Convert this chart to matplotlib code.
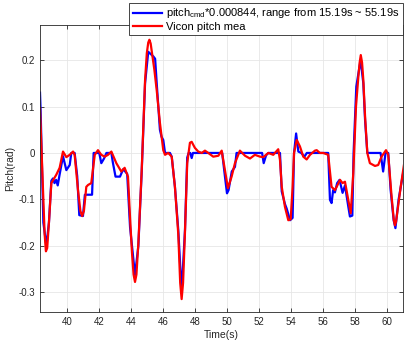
import matplotlib
matplotlib.use("Agg")
import matplotlib.pyplot as plt

# pitch command (scaled) -- blue
t_cmd = [38.29, 38.33, 38.50, 38.69, 38.85, 39.00, 39.10, 39.20, 39.30, 39.40, 39.50,
         39.73, 39.94, 40.15, 40.25, 40.46, 40.62, 40.75, 40.98, 41.10, 41.55, 41.65,
         42.00, 42.13, 42.30, 42.45, 42.76, 42.85, 43.02, 43.30, 43.50, 43.75, 43.93,
         44.24, 44.45, 44.66, 44.87, 45.07, 45.39, 45.50, 45.60, 45.80, 45.90, 46.01,
         46.12, 46.43, 46.54, 46.74, 46.95, 47.16, 47.37, 47.51, 47.60, 47.70, 47.79,
         47.87, 49.70, 49.87, 50.00, 50.10, 50.30, 50.50, 50.60, 52.20, 52.30, 52.45,
         52.59, 53.32, 53.43, 53.63, 53.74, 53.95, 54.11, 54.20, 54.33, 54.47, 54.65,
         54.85, 55.00, 56.34, 56.45, 56.55, 56.65, 56.76, 56.90, 57.05, 57.24, 57.39,
         57.60, 57.70, 57.85, 57.93, 58.10, 58.30, 58.37, 58.54, 58.65, 58.79, 59.62,
         59.78, 59.93, 60.10, 60.25, 60.44, 60.55, 60.75, 61.05]
pitch_cmd = [0.13, 0.09, -0.15, -0.20, -0.15, -0.06, -0.055, -0.065, -0.058, -0.07, -0.05,
             -0.007, -0.037, -0.026, 0.0, 0.0, -0.05, -0.134, -0.136, -0.09, -0.09, 0.0,
             0.0, -0.022, -0.012, 0.0, 0.0, -0.02, -0.051, -0.051, -0.035, -0.045, -0.16,
             -0.263, -0.20, -0.04, 0.15, 0.218, 0.208, 0.203, 0.15, 0.05, 0.035, 0.028,
             0.0, 0.0, -0.008, -0.073, -0.166, -0.30, -0.166, -0.01, 0.0, 0.0, -0.011,
             0.0, 0.0, -0.05, -0.087, -0.08, -0.04, -0.03, 0.0, 0.0, -0.022, -0.005,
             0.0, 0.0, -0.083, -0.11, -0.12, -0.145, -0.14, 0.0, 0.042, 0.003, 0.0,
             -0.008, 0.0, 0.0, -0.101, -0.108, -0.08, -0.085, -0.065, -0.058, -0.086, -0.07,
             -0.116, -0.137, -0.135, 0.0, 0.143, 0.186, 0.20, 0.15, 0.07, 0.0, 0.0,
             -0.040, 0.0, 0.0, -0.08, -0.145, -0.162, -0.10, -0.04]

# Vicon measured pitch -- red
t_mea = [38.29, 38.45, 38.58, 38.66, 38.74, 38.85, 39.00, 39.31, 39.52, 39.73, 39.94,
         40.15, 40.36, 40.46, 40.67, 40.82, 40.93, 41.04, 41.19, 41.30, 41.50, 41.72,
         41.92, 42.13, 42.34, 42.55, 42.76, 43.07, 43.38, 43.59, 43.80, 43.93, 44.05,
         44.15, 44.24, 44.33, 44.45, 44.66, 44.87, 44.98, 45.07, 45.14, 45.22, 45.32,
         45.45, 45.60, 45.80, 46.01, 46.12, 46.32, 46.54, 46.74, 46.95, 47.07, 47.16,
         47.25, 47.37, 47.51, 47.68, 47.79, 47.99, 48.20, 48.42, 48.62, 48.83, 49.14,
         49.46, 49.67, 49.87, 50.06, 50.29, 50.50, 50.81, 51.13, 51.44, 51.75, 52.07,
         52.27, 52.59, 52.90, 53.21, 53.32, 53.43, 53.63, 53.84, 53.99, 54.11, 54.20,
         54.37, 54.57, 54.78, 54.99, 55.20, 55.51, 55.62, 55.82, 56.03, 56.34, 56.55,
         56.76, 56.87, 57.08, 57.24, 57.39, 57.60, 57.75, 57.91, 58.08, 58.23, 58.31,
         58.38, 58.46, 58.54, 58.65, 58.79, 58.95, 59.27, 59.47, 59.68, 59.96, 60.10,
         60.31, 60.45, 60.52, 60.59, 60.66, 60.88, 61.10]
pitch_mea = [0.097, -0.05, -0.175, -0.212, -0.205, -0.15, -0.065, -0.047, -0.032, 0.003, -0.009,
             -0.004, 0.003, -0.004, -0.08, -0.125, -0.136, -0.125, -0.073, -0.069, -0.065, -0.004,
             0.006, -0.004, -0.008, -0.004, 0.003, -0.022, -0.040, -0.032, -0.051, -0.14, -0.215,
             -0.262, -0.278, -0.262, -0.195, -0.037, 0.157, 0.215, 0.238, 0.244, 0.236, 0.212,
             0.18, 0.135, 0.065, 0.006, -0.004, 0.0, -0.008, -0.073, -0.175, -0.28, -0.315,
             -0.28, -0.17, -0.022, 0.022, 0.024, 0.011, 0.003, 0.0, 0.005, 0.0, -0.008,
             -0.006, 0.005, -0.037, -0.076, -0.051, -0.022, 0.005, -0.006, -0.012, -0.004,
             -0.008, -0.009, 0.0, -0.004, 0.008, -0.015, -0.073, -0.116, -0.145, -0.143, -0.073,
             0.0, 0.028, 0.014, -0.008, -0.014, -0.004, 0.005, 0.006, 0.0, 0.0, -0.004, -0.073,
             -0.08, -0.073, -0.058, -0.065, -0.062, -0.101, -0.130, -0.044, 0.10, 0.165, 0.195,
             0.211, 0.195, 0.157, 0.078, 0.0, -0.022, -0.028, -0.026, -0.008, 0.006, -0.004,
             -0.094, -0.145, -0.156, -0.148, -0.130, -0.073, -0.022]

xticks = [40, 42, 44, 46, 48, 50, 52, 54, 56, 58, 60]
yticks = [-0.3, -0.2, -0.1, 0, 0.1, 0.2]
ytick_labels = ["-0.3", "-0.2", "-0.1", "0", "0.1", "0.2"]

plt.rcParams['font.family'] = ['Liberation Sans', 'DejaVu Sans']
plt.rcParams['mathtext.default'] = 'regular'
plt.rcParams['axes.unicode_minus'] = False

fig = plt.figure(figsize=(4.07, 3.46), dpi=100)
ax = fig.add_axes([0.0975, 0.098, 0.8925, 0.83])

ax.plot(t_cmd, pitch_cmd, color=(0, 0, 1), lw=1.6,
        label="pitch$_{cmd}$*0.000844, range from 15.19s ~ 55.19s")
ax.plot(t_mea, pitch_mea, color=(1, 0, 0), lw=1.6, label="Vicon pitch mea")

ax.set_xlim(38.27, 61.02)
ax.set_ylim(-0.343, 0.276)
ax.set_xticks(xticks)
ax.set_xticklabels([str(v) for v in xticks])
ax.set_yticks(yticks)
ax.set_yticklabels(ytick_labels)

gray = '#262626'
ax.grid(True, color='#e6e6e6', lw=0.6)
ax.set_axisbelow(True)
for s in ax.spines.values():
    s.set_color(gray)
    s.set_linewidth(0.6)
ax.tick_params(direction='in', length=3, width=0.6, colors=gray, labelsize=7,
               top=True, right=True)
ax.set_xlabel("Time(s)", fontsize=7.5, color=gray, labelpad=2)
ax.set_ylabel("Pitch(rad)", fontsize=7.5, color=gray, labelpad=2)

leg = ax.legend(loc='upper right', bbox_to_anchor=(0.990, 0.991),
                bbox_transform=fig.transFigure, fontsize=8, fancybox=False,
                framealpha=1, edgecolor=gray, handlelength=2.6, borderpad=0.3,
                labelspacing=0.15, handletextpad=0.4, borderaxespad=0)
leg.get_frame().set_linewidth(0.6)

fig.savefig("out.png", dpi=100)
